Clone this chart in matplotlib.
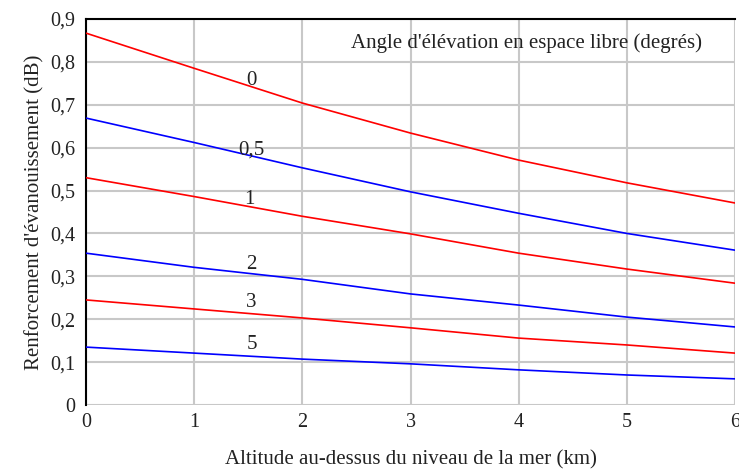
import matplotlib.pyplot as plt
from matplotlib.ticker import FuncFormatter

plt.rcParams['font.family'] = ['Liberation Serif', 'DejaVu Serif']

altitude = [0, 1, 2, 3, 4, 5, 6]
angles = ['0', '0,5', '1', '2', '3', '5']
gain = {
    '0':   [0.867, 0.785, 0.704, 0.634, 0.571, 0.518, 0.471],
    '0,5': [0.669, 0.612, 0.553, 0.497, 0.447, 0.400, 0.361],
    '1':   [0.530, 0.486, 0.440, 0.399, 0.354, 0.317, 0.284],
    '2':   [0.354, 0.321, 0.293, 0.259, 0.233, 0.205, 0.182],
    '3':   [0.245, 0.224, 0.203, 0.180, 0.156, 0.140, 0.121],
    '5':   [0.135, 0.121, 0.107, 0.096, 0.082, 0.070, 0.061],
}
colors = ['red', 'blue', 'red', 'blue', 'red', 'blue']
label_pos = {
    '0': (1.53, 0.757), '0,5': (1.53, 0.594), '1': (1.51, 0.480),
    '2': (1.53, 0.328), '3': (1.53, 0.240), '5': (1.53, 0.140),
}

fig, ax = plt.subplots(figsize=(7.39, 4.71), dpi=100)
fig.subplots_adjust(left=0.1164, right=0.9946, top=0.9597, bottom=0.1401)

for name, c in zip(angles, colors):
    ax.plot(altitude, gain[name], color=c, lw=1.2, zorder=3)
    lx, ly = label_pos[name]
    ax.text(lx, ly, name, ha='center', va='center', fontsize=15, color='#222222', zorder=4)

ax.text(4.07, 0.843, "Angle d'élévation en espace libre (degrés)",
        ha='center', va='center', fontsize=15, color='#222222')

ax.set_xlim(0, 6)
ax.set_ylim(0, 0.9)
ax.set_xticks(range(7))
ax.set_yticks([i / 10 for i in range(10)])
ax.yaxis.set_major_formatter(FuncFormatter(lambda v, p: '0' if v == 0 else f'{v:.1f}'.replace('.', ',')))
ax.tick_params(length=0, labelsize=14.5, labelcolor='#222222')
ax.tick_params(axis='y', pad=8)
ax.tick_params(axis='x', pad=6)
ax.grid(True, color='#c8c8c8', lw=1.5)
ax.set_axisbelow(True)

for s in ['right', 'bottom']:
    ax.spines[s].set_visible(False)
ax.spines['top'].set_linewidth(1.5)
ax.spines['left'].set_linewidth(1.5)

ax.set_xlabel('Altitude au-dessus du niveau de la mer (km)', fontsize=15, color='#222222', labelpad=13)
ax.set_ylabel("Renforcement d'évanouissement (dB)", fontsize=15, color='#222222', labelpad=4)

plt.savefig('out.png')
